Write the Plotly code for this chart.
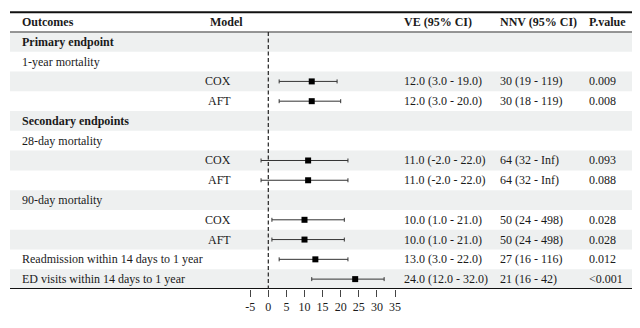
import plotly.graph_objects as go

# ---------------- data ----------------
outcomes = ["Primary endpoint", "1-year mortality", "", "", "Secondary endpoints",
            "28-day mortality", "", "", "90-day mortality", "", "",
            "Readmission within 14 days to 1 year", "ED visits within 14 days to 1 year"]
is_group = [True, False, False, False, True, False, False, False, False, False, False, False, False]
models = ["", "", "COX", "AFT", "", "", "COX", "AFT", "", "COX", "AFT", "", ""]
ve = [None, None, 12.0, 12.0, None, None, 11.0, 11.0, None, 10.0, 10.0, 13.0, 24.0]
ve_low = [None, None, 3.0, 3.0, None, None, -2.0, -2.0, None, 1.0, 1.0, 3.0, 12.0]
ve_high = [None, None, 19.0, 20.0, None, None, 22.0, 22.0, None, 21.0, 21.0, 22.0, 32.0]
ve_text = ["", "", "12.0 (3.0 - 19.0)", "12.0 (3.0 - 20.0)", "", "",
           "11.0 (-2.0 - 22.0)", "11.0 (-2.0 - 22.0)", "", "10.0 (1.0 - 21.0)",
           "10.0 (1.0 - 21.0)", "13.0 (3.0 - 22.0)", "24.0 (12.0 - 32.0)"]
nnv_text = ["", "", "30 (19 - 119)", "30 (18 - 119)", "", "", "64 (32 - Inf)", "64 (32 - Inf)",
            "", "50 (24 - 498)", "50 (24 - 498)", "27 (16 - 116)", "21 (16 - 42)"]
p_text = ["", "", "0.009", "0.008", "", "", "0.093", "0.088", "", "0.028", "0.028", "0.012", "<0.001"]
headers = ["Outcomes", "Model", "VE (95% CI)", "NNV (95% CI)", "P.value"]
tick_vals = [-5, 0, 5, 10, 15, 20, 25, 30, 35]

# ---------------- layout constants ----------------
W, H = 640, 328
FONT = "Liberation Serif"
FS = 12
TXT = "#1a1a1a"
STRIPE = "#eef0f0"
px_per_unit = 3.62
zero_px = 268.3
table_left, table_right = 10, 632
col_x = {"out": 20, "model": 208, "model_r": 233, "ve": 402, "nnv": 498, "p": 587}
row_h = 19.77
header_center = 22.1
plot_bottom = 289

n = len(outcomes)
rows = list(range(1, n + 1))

def px(xp):
    return xp / W

fig = go.Figure()

idx = [r for r, v in zip(rows, ve) if v is not None]
xs = [v for v in ve if v is not None]
lo = [v - l for v, l in zip(ve, ve_low) if v is not None]
hi = [h - v for v, h in zip(ve, ve_high) if v is not None]

fig.add_trace(go.Scatter(
    x=xs, y=idx, mode="markers",
    marker=dict(symbol="square", size=6, color="black"),
    error_x=dict(type="data", symmetric=False, array=hi, arrayminus=lo,
                 color="#333333", thickness=1, width=2),
    showlegend=False, hoverinfo="skip"))

shapes = []
for r in rows:
    if r % 2 == 1:
        shapes.append(dict(type="rect", xref="paper", yref="y", layer="below",
                           x0=px(table_left), x1=px(table_right), y0=r - 0.5, y1=r + 0.5,
                           fillcolor=STRIPE, line=dict(width=0)))
shapes.append(dict(type="line", xref="paper", yref="y", x0=px(table_left), x1=px(table_right),
                   y0=-0.5, y1=-0.5, line=dict(color="#111", width=2)))
shapes.append(dict(type="line", xref="paper", yref="y", x0=px(table_left), x1=px(table_right),
                   y0=0.5, y1=0.5, line=dict(color="#333", width=1)))
shapes.append(dict(type="line", xref="paper", yref="y", x0=px(table_left), x1=px(table_right),
                   y0=n + 0.5, y1=n + 0.5, line=dict(color="#111", width=2)))
shapes.append(dict(type="line", xref="x", yref="y", x0=0, x1=0, y0=0.5, y1=n + 0.5,
                   line=dict(color="#222", width=1.2, dash="4px,2.5px")))

ann = []
def add(text, x, y, anchor="left", bold=False):
    ann.append(dict(text=f"<b>{text}</b>" if bold else text, xref="paper", yref="y",
                    x=px(x), y=y, xanchor=anchor, yanchor="middle", showarrow=False,
                    font=dict(family=FONT, size=FS, color=TXT)))

add(headers[0], col_x["out"], 0, bold=True)
add(headers[1], col_x["model"], 0, bold=True)
add(headers[2], col_x["ve"], 0, bold=True)
add(headers[3], col_x["nnv"], 0, bold=True)
add(headers[4], col_x["p"], 0, bold=True)

for r, o, g, m, vt, nt, pt in zip(rows, outcomes, is_group, models, ve_text, nnv_text, p_text):
    if o:
        add(o, col_x["out"], r, bold=g)
    if m:
        add(m, col_x["model_r"], r, anchor="right")
    if vt:
        add(vt, col_x["ve"], r)
    if nt:
        add(nt, col_x["nnv"], r)
    if pt:
        add(pt, col_x["p"], r)

x_left = -zero_px / px_per_unit
x_right = (W - zero_px) / px_per_unit
y_top = -header_center / row_h
y_bot = (plot_bottom - header_center) / row_h

fig.update_layout(
    width=W, height=H,
    margin=dict(l=0, r=0, t=0, b=H - plot_bottom),
    paper_bgcolor="white", plot_bgcolor="white",
    shapes=shapes, annotations=ann,
    xaxis=dict(range=[x_left, x_right], tickvals=tick_vals, ticktext=[str(v) for v in tick_vals],
               showgrid=False, zeroline=False, showline=False,
               ticks="outside", ticklen=7, tickwidth=1, tickcolor="#444",
               tickfont=dict(family=FONT, size=FS, color=TXT), fixedrange=True),
    yaxis=dict(range=[y_bot, y_top], visible=False, showgrid=False, zeroline=False, fixedrange=True),
)

fig.write_html("out.html")
